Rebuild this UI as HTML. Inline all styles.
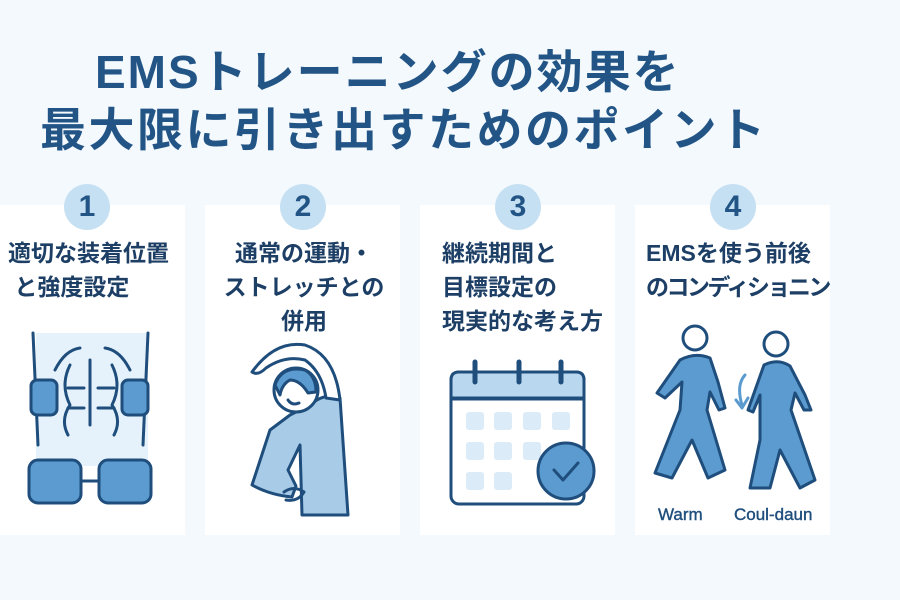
<!DOCTYPE html>
<html><head><meta charset="utf-8"><style>
body{margin:0;width:900px;height:600px;background:#f4f9fd;position:relative;overflow:hidden;font-family:"Liberation Sans","Noto Sans CJK JP",sans-serif;}
.t{position:absolute;color:#225586;font-weight:bold;font-size:46px;line-height:56px;white-space:nowrap}
.card{position:absolute;top:205px;height:330px;width:195px;background:#fff}
.num{position:absolute;top:184px;width:46px;height:46px;border-radius:50%;background:#c6e0f3;color:#225586;font-weight:bold;font-size:30px;line-height:46px;text-align:center}
.lbl{position:absolute;color:#1d3f66;font-weight:bold;font-size:23px;line-height:34px;white-space:nowrap}
svg{position:absolute}
</style></head><body>
<div class="t" style="left:95px;top:44px;letter-spacing:2px">EMSトレーニングの効果を</div>
<div class="t" style="left:40px;top:102px;letter-spacing:2.5px">最大限に引き出すためのポイント</div>

<div class="card" style="left:-10px"></div>
<div class="card" style="left:205px"></div>
<div class="card" style="left:420px"></div>
<div class="card" style="left:635px;width:195px"></div>

<div class="num" style="left:64px">1</div>
<div class="num" style="left:280px">2</div>
<div class="num" style="left:495px">3</div>
<div class="num" style="left:710px">4</div>

<div class="lbl" style="left:8px;top:236px">適切な装着位置<br>&nbsp;と強度設定</div>
<div class="lbl" style="left:212px;top:236px;width:184px;text-align:center">通常の運動・<br>ストレッチとの<br>併用</div>
<div class="lbl" style="left:442px;top:236px">継続期間と<br>目標設定の<br>現実的な考え方</div>
<div class="lbl" style="left:646px;top:236px">EMSを使う前後<br><span style="letter-spacing:-2.5px">のコンディショニン</span></div>

<svg width="900" height="600" viewBox="0 0 900 600" style="left:0;top:0" fill="none" stroke="#1f4e7d" stroke-width="3" stroke-linecap="round" stroke-linejoin="round">
<!-- card 1 -->
<rect x="36" y="333" width="112" height="133" fill="#e6f2fb" stroke="none"/>
<path d="M33 333 L38 445 M148 333 L143 445"/>
<path d="M55 370 Q65 350 80 348 M130 370 Q120 350 105 348 M90 360 V425"/>
<path d="M70 365 Q60 385 70 405 Q60 420 68 435 M112 365 Q122 385 112 405 Q122 420 114 435"/>
<path d="M68 388 H84 M68 408 H84 M98 388 H114 M98 408 H114"/>
<rect x="31" y="380" width="26" height="35" rx="6" fill="#5b9bcf"/>
<rect x="122" y="380" width="26" height="35" rx="6" fill="#5b9bcf"/>
<rect x="29" y="460" width="52" height="43" rx="9" fill="#5b9bcf"/>
<rect x="99" y="460" width="52" height="43" rx="9" fill="#5b9bcf"/>
<path d="M81 481 H99"/>
<!-- card 2 -->
<path d="M290 415 L270 430 L252 485 Q270 495 292 497 L296 486 L288 470 L300 445 L302 515 L348 515 L340 398 Q325 392 310 405 Z" fill="#a8cbe8"/>
<path d="M340 400 Q335 355 305 345 Q275 340 252 372 Q258 376 266 368 Q285 355 305 360 Q322 372 326 398 Z" fill="#fff"/>
<circle cx="296" cy="390" r="22" fill="#fff"/>
<path d="M275 385 Q282 365 305 370 Q316 376 316 392 L308 393 Q300 380 290 380 Q282 384 280 395 Z" fill="#5b9bcf"/>
<path d="M288 400 Q292 406 299 403"/>
<path d="M284 492 Q294 485 304 492 Q298 502 286 500"/>
<!-- card 3 -->
<rect x="451" y="372" width="133" height="132" rx="8" fill="#fff"/>
<path d="M451 398 V380 Q451 372 459 372 H576 Q584 372 584 380 V398 Z" fill="#b9d7ef"/>
<path d="M451 399 H584"/>
<path d="M475 362 V382 M519 362 V382 M561 362 V382" stroke-width="5"/>
<g fill="#dcebf8" stroke="none">
<rect x="466" y="412" width="18" height="18" rx="3"/><rect x="494" y="412" width="18" height="18" rx="3"/><rect x="523" y="412" width="18" height="18" rx="3"/><rect x="552" y="412" width="18" height="18" rx="3"/>
<rect x="466" y="442" width="18" height="18" rx="3"/><rect x="494" y="442" width="18" height="18" rx="3"/><rect x="523" y="442" width="18" height="18" rx="3"/>
<rect x="466" y="472" width="18" height="18" rx="3"/><rect x="494" y="472" width="18" height="18" rx="3"/>
</g>
<circle cx="566" cy="471" r="28" fill="#5b9bcf"/>
<path d="M554 470 L563 480 L578 463"/>
<!-- card 4 -->
<circle cx="695" cy="338" r="12" fill="#fff"/>
<path d="M680 360 Q695 352 710 358 L718 382 L725 408 L719 410 L710 392 L707 410 L725 470 L708 478 L692 440 L672 478 L655 473 L680 410 L682 382 L665 398 L657 393 Z" fill="#5b9bcf"/>
<circle cx="776" cy="344" r="12" fill="#fff"/>
<path d="M764 365 Q778 358 790 366 L805 395 L811 410 L804 410 L795 393 L791 410 L815 480 L800 488 L780 450 L770 488 L750 488 L760 440 L760 395 L753 412 L748 410 Z" fill="#5b9bcf"/>
<path d="M745 375 Q736 385 742 405 M736 400 L742 408 L748 398" stroke="#5b9bcf" stroke-width="3"/>
</svg>
<div class="lbl" style="left:658px;top:498px;font-size:17px;font-weight:normal;color:#1f4e7d;-webkit-text-stroke:0.4px #1f4e7d">Warm</div>
<div class="lbl" style="left:734px;top:498px;font-size:17px;font-weight:normal;color:#1f4e7d;-webkit-text-stroke:0.4px #1f4e7d">Coul-daun</div>
</body></html>
